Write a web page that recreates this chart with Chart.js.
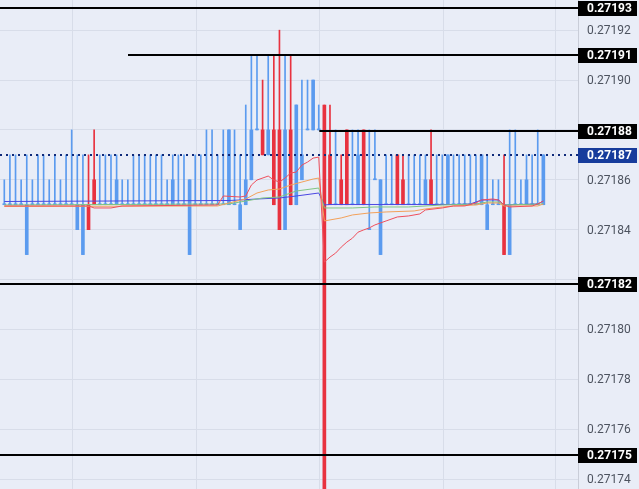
<!DOCTYPE html>
<html>
<head>
<meta charset="utf-8">
<script src="https://cdn.jsdelivr.net/npm/chart.js@4.4.0/dist/chart.umd.min.js"></script>
<style>
    html, body { margin: 0; padding: 0; background: #e9edf7; overflow: hidden; }
    #wrap { width: 639px; height: 489px; }
</style>
</head>
<body>
<div id="wrap"><canvas id="chart" width="639" height="489"></canvas></div>
<script>
// ── candles (one per bar, left to right) ──
const opens = [
    0.27185,0.27185,0.27185,0.27185,0.27183,0.27185,0.27185,0.27185,0.27185,0.27185,
    0.27185,0.27185,0.27185,0.27184,0.27183,0.27185,0.27186,0.27185,0.27185,0.27185,
    0.27185,0.27185,0.27185,0.27185,0.27185,0.27185,0.27185,0.27185,0.27185,0.27185,
    0.27185,0.27185,0.27185,0.27183,0.27185,0.27185,0.27185,0.27185,0.27185,0.27185,
    0.27185,0.27185,0.27184,0.27185,0.27186,0.27188,0.27188,0.27187,0.27188,0.27188,
    0.27184,0.27188,0.27185,0.27186,0.27188,0.27188,0.27188,0.27189,0.27187,0.27185,
    0.27186,0.27188,0.27185,0.27185,0.27188,0.27184,0.27186,0.27183,0.27185,0.27185,
    0.27187,0.27186,0.27185,0.27185,0.27185,0.27185,0.27186,0.27185,0.27185,0.27185,
    0.27185,0.27185,0.27185,0.27185,0.27185,0.27185,0.27184,0.27185,0.27185,0.27185,
    0.27183,0.27185,0.27185,0.27185,0.27185,0.27185,0.27185,
];
const highs = [
    0.27186,0.27187,0.27187,0.27186,0.27187,0.27186,0.27187,0.27187,0.27186,0.27187,
    0.27186,0.27187,0.27188,0.27187,0.27187,0.27187,0.27188,0.27187,0.27187,0.27187,
    0.27187,0.27186,0.27186,0.27187,0.27187,0.27187,0.27187,0.27187,0.27187,0.27186,
    0.27187,0.27187,0.27187,0.27186,0.27187,0.27187,0.27188,0.27188,0.27187,0.27188,
    0.27188,0.27188,0.27187,0.27189,0.27191,0.27191,0.27190,0.27191,0.27191,0.27192,
    0.27191,0.27191,0.27189,0.27190,0.27190,0.27190,0.27189,0.27189,0.27189,0.27188,
    0.27187,0.27188,0.27188,0.27188,0.27188,0.27188,0.27188,0.27186,0.27187,0.27187,
    0.27187,0.27187,0.27187,0.27187,0.27187,0.27187,0.27188,0.27187,0.27187,0.27187,
    0.27187,0.27187,0.27187,0.27187,0.27187,0.27187,0.27187,0.27186,0.27186,0.27187,
    0.27188,0.27188,0.27186,0.27187,0.27187,0.27188,0.27187,
];
const lows = [
    0.27185,0.27185,0.27185,0.27185,0.27183,0.27185,0.27185,0.27185,0.27185,0.27185,
    0.27185,0.27185,0.27185,0.27184,0.27183,0.27184,0.27185,0.27185,0.27185,0.27185,
    0.27185,0.27185,0.27185,0.27185,0.27185,0.27185,0.27185,0.27185,0.27185,0.27185,
    0.27185,0.27185,0.27185,0.27183,0.27185,0.27185,0.27185,0.27185,0.27185,0.27185,
    0.27185,0.27185,0.27184,0.27185,0.27186,0.27188,0.27187,0.27187,0.27185,0.27184,
    0.27184,0.27185,0.27185,0.27186,0.27188,0.27188,0.27188,0.27160,0.27185,0.27185,
    0.27185,0.27185,0.27185,0.27185,0.27185,0.27184,0.27186,0.27183,0.27185,0.27185,
    0.27185,0.27185,0.27185,0.27185,0.27185,0.27185,0.27185,0.27185,0.27185,0.27185,
    0.27185,0.27185,0.27185,0.27185,0.27185,0.27185,0.27184,0.27185,0.27185,0.27183,
    0.27183,0.27185,0.27185,0.27185,0.27185,0.27185,0.27185,
];
const closes = [
    0.27185,0.27185,0.27185,0.27185,0.27185,0.27185,0.27185,0.27185,0.27185,0.27185,
    0.27185,0.27185,0.27185,0.27185,0.27185,0.27184,0.27185,0.27185,0.27185,0.27185,
    0.27186,0.27185,0.27185,0.27185,0.27185,0.27185,0.27185,0.27185,0.27185,0.27185,
    0.27186,0.27185,0.27185,0.27186,0.27185,0.27185,0.27185,0.27185,0.27185,0.27185,
    0.27188,0.27185,0.27185,0.27186,0.27188,0.27188,0.27187,0.27188,0.27185,0.27184,
    0.27188,0.27185,0.27189,0.27187,0.27188,0.27190,0.27188,0.27160,0.27185,0.27185,
    0.27185,0.27185,0.27185,0.27187,0.27185,0.27184,0.27186,0.27186,0.27185,0.27185,
    0.27185,0.27185,0.27185,0.27185,0.27185,0.27186,0.27185,0.27185,0.27185,0.27187,
    0.27185,0.27185,0.27185,0.27185,0.27185,0.27187,0.27185,0.27185,0.27185,0.27183,
    0.27185,0.27185,0.27185,0.27186,0.27185,0.27185,0.27187,
];

// ── moving average lines (bar index, value) ──
const redIdx = [0,15,16,19,21,38,39,42,43,44,45,47,48,49,50,51,52,53,54,55,56,57,58,59,60,61,62,63,64,65,66,68,70,72,74,75,78,80,82,84,85,87,88,89,90,94,95,96];
const redVal = [0.2718495,0.2718495,0.2718487,0.2718487,0.2718495,0.2718499,0.2718535,0.2718531,0.2718535,0.2718579,
    0.2718599,0.2718615,0.2718599,0.2718591,0.2718607,0.2718627,0.2718631,0.2718659,0.2718671,0.2718687,
    0.2718691,0.2718270,0.2718290,0.2718306,0.2718330,0.2718350,0.2718366,0.2718390,0.2718399,0.2718407,
    0.2718419,0.2718435,0.2718451,0.2718455,0.2718463,0.2718479,0.2718487,0.2718495,0.2718495,0.2718507,
    0.2718519,0.2718523,0.2718519,0.2718499,0.2718491,0.2718495,0.2718503,0.2718515];
const orangeIdx = [0,38,40,43,45,47,49,51,53,55,56,57,60,62,65,68,73,75,78,80,84,86,88,89,95,96];
const orangeVal = [0.2718493,0.2718495,0.2718507,0.2718523,0.2718547,0.2718559,0.2718563,0.2718579,0.2718591,0.2718603,
    0.2718607,0.2718435,0.2718447,0.2718459,0.2718467,0.2718471,0.2718475,0.2718483,0.2718491,0.2718495,
    0.2718499,0.2718507,0.2718507,0.2718495,0.2718495,0.2718503];
const greenIdx = [0,40,43,46,49,52,56,57,62,66,72,78,84,86,88,89,96];
const greenVal = [0.2718499,0.2718503,0.2718515,0.2718527,0.2718531,0.2718555,0.2718567,0.2718487,0.2718487,0.2718491,
    0.2718491,0.2718499,0.2718503,0.2718511,0.2718511,0.2718499,0.2718503];
const blueIdx = [0,20,40,42,45,49,52,56,57,58,80,83,85,88,89,95,96];
const blueVal = [0.2718513,0.2718515,0.2718517,0.2718519,0.2718523,0.2718527,0.2718535,0.2718547,0.2718499,0.2718501,
    0.2718501,0.2718503,0.2718519,0.2718519,0.2718499,0.2718503,0.2718515];

// ── axes ──
const priceTicks = [0.27174,0.27176,0.27178,0.27180,0.27182,0.27184,0.27186,0.27188,0.27190,0.27192];
const timeGrid = [12.06, 34.14, 56.05, 78.13, 98.25];

// ── marked price levels ──
const levelPrice = [0.2719289, 0.2719101, 0.2718796, 0.2718182, 0.2717498];
const levelText = ["0.27193", "0.27191", "0.27188", "0.27182", "0.27175"];
const levelFrom = [-1, 22.03, 56.1, -1, -1];
const lastPrice = 0.2718699;
const lastText = "0.27187";

const UP = "#5b9bef";
const DOWN = "#e8323f";
const NAVY = "#173c9c";
const FONT = "Roboto, 'Noto Sans', sans-serif";

const colors = opens.map((o, i) => (closes[i] < o ? DOWN : UP));
const wickData = opens.map((o, i) => ({ x: i, y: [lows[i], highs[i]] }));
const bodyData = opens.map((o, i) => ({ x: i, y: [o, closes[i]] }));
const pts = (idx, val) => idx.map((x, i) => ({ x, y: val[i] }));

function maLine(data, color) {
    return {
        type: "line",
        data,
        borderColor: color,
        borderWidth: 1,
        pointRadius: 0,
        tension: 0,
        order: 1,
    };
}

const bgPlugin = {
    id: "bg",
    beforeDraw(c) {
        const g = c.ctx;
        g.save();
        g.fillStyle = "#e9edf7";
        g.fillRect(0, 0, c.width, c.height);
        g.restore();
    },
};

const levelPlugin = {
    id: "levels",
    afterDatasetsDraw(c) {
        const g = c.ctx, xs = c.scales.x, ys = c.scales.y, a = c.chartArea;
        g.save();
        // last price, dotted
        const ly = Math.round(ys.getPixelForValue(lastPrice));
        g.strokeStyle = "#0f2a7a";
        g.lineWidth = 2;
        g.setLineDash([2, 4]);
        g.beginPath();
        g.moveTo(a.left, ly);
        g.lineTo(a.right, ly);
        g.stroke();
        g.setLineDash([]);
        g.strokeStyle = "#000";
        levelPrice.forEach((p, i) => {
            const y = Math.round(ys.getPixelForValue(p));
            const x0 = levelFrom[i] < 0 ? a.left : xs.getPixelForValue(levelFrom[i]);
            g.beginPath();
            g.moveTo(x0, y);
            g.lineTo(a.right, y);
            g.stroke();
        });
        g.restore();
    },
    afterDraw(c) {
        const g = c.ctx, ys = c.scales.y, a = c.chartArea;
        const tagged = levelPrice.concat([lastPrice]).map((p) => ys.getPixelForValue(p));
        g.save();
        g.textBaseline = "middle";
        // price axis labels (hidden under a tag)
        g.font = "12px " + FONT;
        g.fillStyle = "#4d535f";
        priceTicks.forEach((p) => {
            const y = Math.round(ys.getPixelForValue(p));
            if (tagged.some((t) => Math.abs(t - y) < 12)) return;
            g.fillText(p.toFixed(5), a.right + 9, y + 1);
        });
        // marked level tags
        g.font = "bold 12px " + FONT;
        const tag = (p, txt, bg) => {
            const y = Math.round(ys.getPixelForValue(p));
            g.fillStyle = bg;
            g.fillRect(a.right, y - 7, 59, 15);
            g.fillStyle = "#fff";
            g.fillText(txt, a.right + 9, y + 1);
        };
        levelPrice.forEach((p, i) => tag(p, levelText[i], "#000"));
        tag(lastPrice, lastText, NAVY);
        g.restore();
    },
};

new Chart(document.getElementById("chart").getContext("2d"), {
    type: "bar",
    data: {
        datasets: [
            maLine(pts(redIdx, redVal), "#ef4f5c"),
            maLine(pts(orangeIdx, orangeVal), "#f3a15a"),
            maLine(pts(greenIdx, greenVal), "#80c783"),
            maLine(pts(blueIdx, blueVal), "#4b48e2"),
            {
                data: bodyData,
                backgroundColor: colors,
                barThickness: 3,
                minBarLength: 1,
                grouped: false,
                order: 2,
            },
            {
                data: wickData,
                backgroundColor: colors,
                barThickness: 1,
                grouped: false,
                order: 3,
            },
        ],
    },
    options: {
        responsive: false,
        animation: false,
        layout: { padding: 0, autoPadding: false },
        plugins: { legend: { display: false }, tooltip: { enabled: false } },
        scales: {
            x: {
                type: "linear",
                min: -0.766,
                max: 102.17,
                offset: false,
                afterBuildTicks: (s) => { s.ticks = timeGrid.map((v) => ({ value: v })); },
                grid: { color: "#d8dde9", drawTicks: false, offset: false },
                ticks: { display: false },
                border: { display: false },
            },
            y: {
                position: "right",
                min: 0.271736,
                max: 0.2719321,
                afterFit: (s) => { s.width = 61; },
                afterBuildTicks: (s) => { s.ticks = priceTicks.map((v) => ({ value: v })); },
                grid: { color: "#d8dde9", drawTicks: false, offset: false },
                border: { display: true, color: "#c9cdd8" },
                ticks: { display: false },
            },
        },
    },
    plugins: [bgPlugin, levelPlugin],
});
</script>
</body>
</html>
